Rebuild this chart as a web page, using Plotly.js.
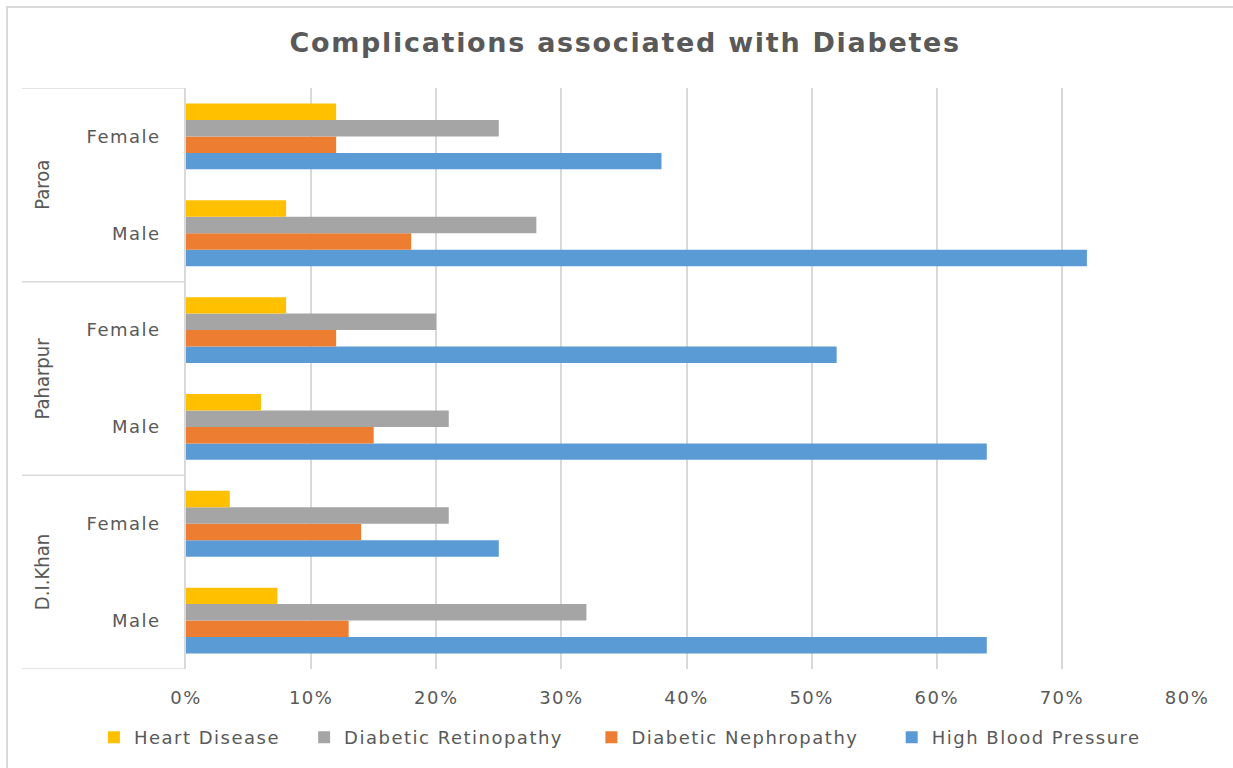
<!DOCTYPE html>
<html>
<head>
<meta charset="utf-8">
<script src="https://cdn.plot.ly/plotly-3.0.1.min.js"></script>
<style>
  html, body { margin: 0; padding: 0; background: #fff; }
  #wrap { position: relative; width: 1233px; height: 768px; overflow: hidden; }
  #chart { width: 1233px; height: 768px; }
  #frame { position: absolute; left: 6px; top: 6px; width: 1240px; height: 780px;
           border-top: 2px solid #d9d9d9; border-left: 2px solid #d9d9d9; pointer-events: none; }
  /* wider tracking for the chart text */
  .xtick text, .ytick text, .legendtext,
  .infolayer [class*="legend"] text { letter-spacing: 1.5px; }
  .gtitle { letter-spacing: 1.7px; }
</style>
</head>
<body>
<div id="wrap">
  <div id="chart"></div>
  <div id="frame"></div>
</div>
<script>
// Category rows, bottom to top
const regions = ['D.I.Khan', 'D.I.Khan', 'Paharpur', 'Paharpur', 'Paroa', 'Paroa'];
const genders = ['Male', 'Female', 'Male', 'Female', 'Male', 'Female'];
const regionNames = ['D.I.Khan', 'Paharpur', 'Paroa'];

// Share of patients with each complication
const highBloodPressure   = [0.64, 0.25, 0.64, 0.52, 0.72, 0.38];
const diabeticNephropathy = [0.13, 0.14, 0.15, 0.12, 0.18, 0.12];
const diabeticRetinopathy = [0.32, 0.21, 0.21, 0.20, 0.28, 0.25];
const heartDisease        = [0.073, 0.035, 0.06, 0.08, 0.08, 0.12];

const seriesNames  = ['High Blood Pressure', 'Diabetic Nephropathy', 'Diabetic Retinopathy', 'Heart Disease'];
const seriesValues = [highBloodPressure, diabeticNephropathy, diabeticRetinopathy, heartDisease];
const seriesColors = ['#5B9BD5', '#ED7D31', '#A5A5A5', '#FFC000'];
// one legend box per series so each key sits at its own spot along the bottom
const legendIds    = ['legend4', 'legend3', 'legend2', 'legend'];
const legendLeft   = [0.705, 0.405, 0.118, -0.092];
const legendEntryW = [228, 240, 228, 160];

const rowKeys = regions.map((r, i) => r + ' ' + genders[i]);

const textColor = '#595959';
const gridColor = '#d9d9d9';
const baseFont = '"DejaVu Sans", "Open Sans", sans-serif';
const narrowFont = '"Liberation Sans Narrow", "DejaVu Sans Condensed", "Roboto", sans-serif';

const traces = seriesNames.map((name, k) => ({
  type: 'bar',
  orientation: 'h',
  name: name,
  y: rowKeys,
  x: seriesValues[k],
  marker: { color: seriesColors[k] },
  legend: legendIds[k],
  hovertemplate: '%{x:.0%}<extra>' + name + '</extra>'
}));

// Divider lines between region groups, in the left label area
const shapes = [-0.5, 1.5, 3.5, 5.5].map(v => ({
  type: 'line', xref: 'paper', yref: 'y',
  x0: -0.1638, x1: 0, y0: v, y1: v,
  line: { color: gridColor, width: 1.5 }
}));

const annotations = regionNames.map((name, i) => ({
  xref: 'paper', yref: 'y',
  x: -0.1439, y: 2 * i + 0.5,
  text: name, textangle: -90, showarrow: false,
  xanchor: 'center', yanchor: 'middle',
  font: { family: narrowFont, size: 20, color: textColor }
}));

const legendFont = { family: baseFont, size: 18, color: textColor };

const layout = {
  width: 1233, height: 768,
  margin: { l: 186, r: 46, t: 88, b: 96 },
  paper_bgcolor: '#fff', plot_bgcolor: '#fff',
  title: {
    text: '<b>Complications associated with Diabetes</b>',
    x: 0.507, xanchor: 'center', y: 0.944, yanchor: 'middle',
    font: { family: baseFont, size: 27, color: textColor }
  },
  barmode: 'group',
  bargap: 0.32,
  bargroupgap: 0,
  xaxis: {
    range: [0, 0.8], dtick: 0.1, tick0: 0, tickformat: '.0%',
    showgrid: true, gridcolor: gridColor, gridwidth: 1.5,
    zeroline: false, showline: false, ticks: '',
    ticklabelstandoff: 16,
    tickfont: { family: baseFont, size: 18, color: textColor },
    fixedrange: true
  },
  yaxis: {
    type: 'category',
    categoryorder: 'array', categoryarray: rowKeys,
    tickvals: rowKeys, ticktext: genders,
    showgrid: false, zeroline: false,
    showline: true, linecolor: gridColor, linewidth: 1.5,
    ticks: '', ticklabelstandoff: 20,
    tickfont: { family: baseFont, size: 18, color: textColor },
    range: [-0.5, 5.5],
    fixedrange: true
  },
  showlegend: true,
  shapes: shapes,
  annotations: annotations
};

legendIds.forEach((id, k) => {
  layout[id] = {
    orientation: 'h', x: legendLeft[k], xanchor: 'left',
    y: -0.118, yanchor: 'middle',
    font: legendFont, itemwidth: 30, bgcolor: 'rgba(0,0,0,0)',
    entrywidth: legendEntryW[k], entrywidthmode: 'pixels'
  };
});

const gd = document.getElementById('chart');

// keep the legend labels' tracking in step with the tick labels
function spaceLegendText() {
  gd.querySelectorAll('.infolayer text').forEach(el => {
    const grp = el.closest('[class*="legend"]');
    if (grp) el.style.letterSpacing = '1.5px';
  });
}

Plotly.newPlot(gd, traces, layout, { displayModeBar: false }).then(() => {
  spaceLegendText();
  gd.on('plotly_afterplot', spaceLegendText);
});
</script>
</body>
</html>
